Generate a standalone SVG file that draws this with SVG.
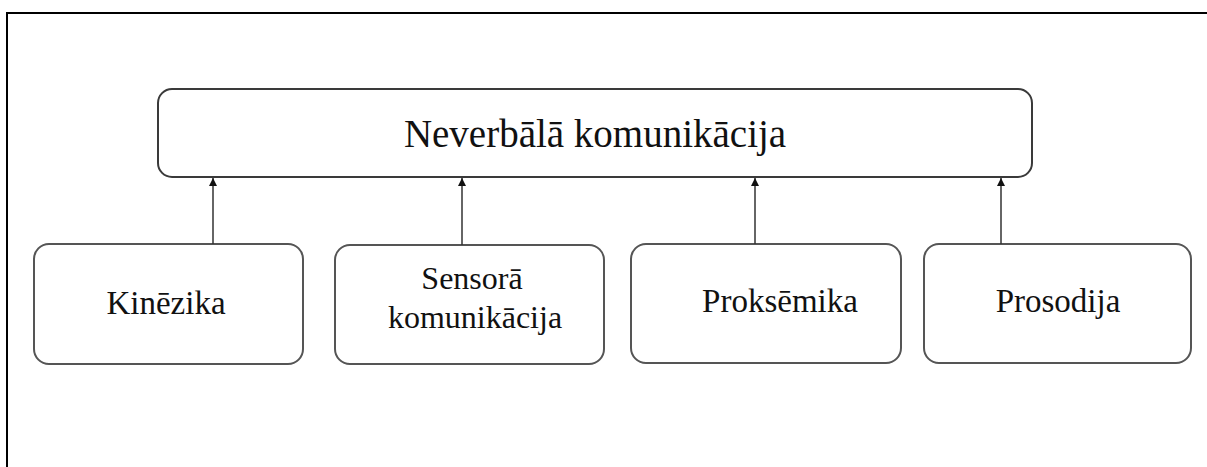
<svg xmlns="http://www.w3.org/2000/svg" width="1207" height="467" viewBox="0 0 1207 467">
<style>
.box{fill:#fff;stroke:#3a3a3a;stroke-width:2}
.child{fill:#fff;stroke:#555;stroke-width:2}
.t{font-family:"Liberation Serif","Times New Roman",serif;fill:#111;text-anchor:middle}
.main{font-size:39px}
.sub{font-size:33px}
.sub2{font-size:32px}
.conn{stroke:#333;stroke-width:1.5;fill:none;marker-end:url(#ah)}
</style>
<defs>
<marker id="ah" viewBox="0 0 8 8" refX="8" refY="4" markerWidth="8" markerHeight="8" markerUnits="userSpaceOnUse" orient="auto">
<path d="M0,0 L8,4 L0,8 z" fill="#111"/>
</marker>
</defs>
<rect x="7" y="13" width="1220" height="480" fill="#fff" stroke="#000" stroke-width="2"/>
<g id="node-root">
<rect class="box" x="158" y="89" width="874" height="88" rx="14"/>
<text class="t main" x="595" y="147">Neverbālā komunikācija</text>
</g>
<g id="node-kinezika">
<rect class="child" x="34" y="244" width="269" height="120" rx="15"/>
<text class="t sub" x="166" y="314">Kinēzika</text>
</g>
<g id="node-sensora">
<rect class="child" x="335" y="245" width="269" height="119" rx="15"/>
<text class="t sub2" x="472" y="289">Sensorā</text>
<text class="t sub2" x="475" y="328">komunikācija</text>
</g>
<g id="node-proksemika">
<rect class="child" x="631" y="244" width="270" height="119" rx="15"/>
<text class="t sub" x="780" y="312">Proksēmika</text>
</g>
<g id="node-prosodija">
<rect class="child" x="924" y="244" width="267" height="119" rx="15"/>
<text class="t sub" x="1058" y="312">Prosodija</text>
</g>
<g id="connectors">
<line class="conn" x1="213" y1="244" x2="213" y2="178"/>
<line class="conn" x1="462" y1="245" x2="462" y2="178"/>
<line class="conn" x1="755" y1="244" x2="755" y2="178"/>
<line class="conn" x1="1001" y1="244" x2="1001" y2="178"/>
</g>
</svg>
